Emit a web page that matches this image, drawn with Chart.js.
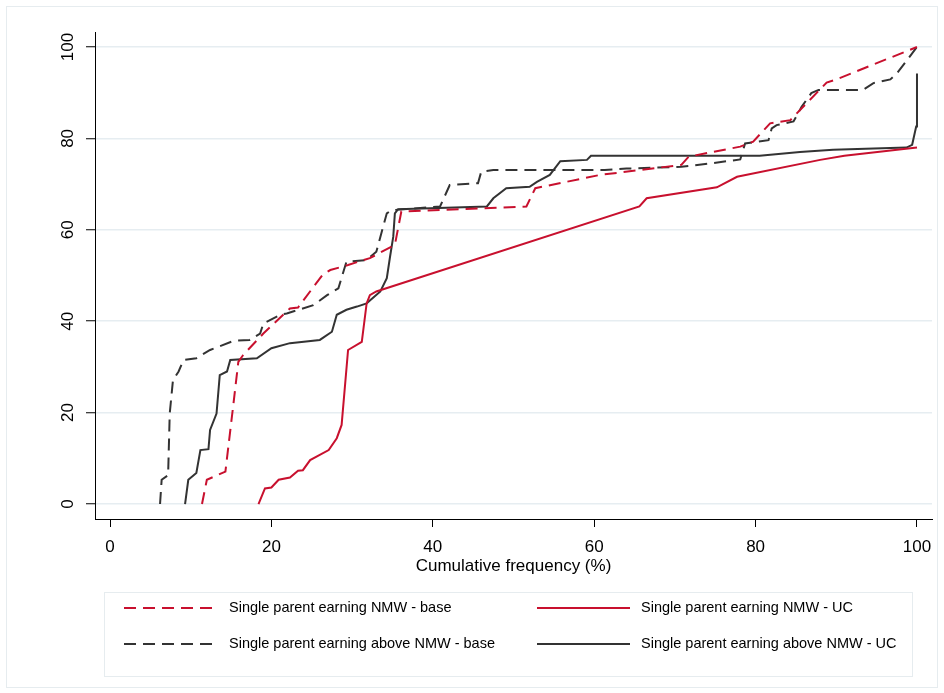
<!DOCTYPE html>
<html>
<head>
<meta charset="utf-8">
<script src="https://cdn.jsdelivr.net/npm/chart.js@4.4.1/dist/chart.umd.min.js"></script>
<style>
  html, body { margin: 0; padding: 0; background: #fff; }
  #wrap { width: 944px; height: 693px; }
</style>
</head>
<body>
<div id="wrap"><canvas id="cdfChart" width="944" height="693"></canvas></div>
<script>
// tick labels
const xTicks = [0, 20, 40, 60, 80, 100];
const yTicks = [0, 20, 40, 60, 80, 100];

// Single parent earning NMW - base (red dashed)
const nmwBaseX = [11.4, 12.0, 14.3, 15.3, 15.9, 16.5, 19.0, 22.3, 23.3, 26.4, 27.3, 29.5, 32.2, 35.3, 36.1, 51.6, 52.7, 60.7, 70.8, 71.7, 78.1, 79.7, 81.8, 84.3, 88.8, 90.0, 100];
const nmwBaseY = [0, 5.3, 7.1, 22.0, 31.1, 32.6, 37.3, 42.8, 43.0, 50.3, 51.2, 52.3, 53.8, 56.7, 64.0, 65.1, 69.1, 72.0, 74.2, 76.0, 78.2, 79.3, 83.3, 84.0, 92.2, 92.9, 100];

// Single parent earning NMW - UC (red solid)
const nmwUcX = [18.4, 19.2, 20.0, 20.9, 22.3, 23.3, 23.9, 24.8, 27.1, 28.1, 28.7, 29.5, 31.2, 31.8, 32.2, 33.0, 65.6, 66.5, 75.2, 77.7, 88.0, 91.0, 100];
const nmwUcY = [0, 3.4, 3.6, 5.3, 5.8, 7.3, 7.4, 9.6, 11.8, 14.4, 17.3, 33.7, 35.5, 43.9, 45.7, 46.5, 65.1, 66.9, 69.3, 71.6, 75.3, 76.2, 78.0];

// Single parent earning above NMW - base (dark dashed)
const aboveBaseX = [6.2, 6.4, 7.2, 7.4, 7.8, 8.5, 9.1, 10.7, 12.4, 15.3, 17.3, 18.6, 19.0, 21.1, 21.9, 25.2, 26.9, 28.3, 29.3, 31.8, 33.0, 34.3, 34.9, 40.9, 42.1, 45.6, 46.0, 47.5, 61.3, 64.0, 70.8, 74.3, 78.1, 78.7, 81.6, 82.0, 82.6, 84.7, 85.7, 86.9, 87.8, 93.3, 94.6, 96.7, 97.5, 100];
const aboveBaseY = [0, 5.3, 6.3, 19.8, 27.1, 29.0, 31.5, 31.9, 33.7, 35.7, 35.9, 37.3, 39.5, 41.4, 41.7, 43.5, 45.7, 47.2, 53.0, 53.4, 55.2, 63.6, 64.3, 65.1, 69.8, 70.2, 72.7, 73.1, 73.1, 73.4, 73.8, 74.5, 75.4, 78.9, 79.6, 82.2, 82.9, 83.7, 86.9, 89.9, 90.6, 90.6, 92.1, 92.9, 94.2, 100];

// Single parent earning above NMW - UC (dark solid)
const aboveUcX = [9.3, 9.7, 10.7, 11.2, 12.2, 12.4, 13.2, 13.6, 14.5, 14.9, 18.2, 20.0, 22.3, 26.0, 27.5, 28.1, 29.3, 30.6, 31.8, 33.5, 34.3, 34.7, 35.1, 35.3, 35.7, 46.7, 47.5, 49.1, 52.0, 52.9, 54.5, 55.8, 59.1, 59.6, 80.5, 85.5, 89.6, 98.7, 99.4, 99.9, 100];
const aboveUcY = [0, 5.3, 6.8, 11.8, 12.0, 16.2, 19.8, 28.2, 29.0, 31.5, 31.9, 34.1, 35.2, 35.9, 37.7, 41.4, 42.5, 43.2, 43.9, 46.5, 49.4, 54.1, 58.5, 63.6, 64.5, 65.1, 66.9, 69.1, 69.4, 70.5, 72.0, 75.0, 75.3, 76.2, 76.2, 77.0, 77.5, 78.0, 78.6, 82.6, 94.2];

const RED = '#c8102e';
const DARK = '#333333';

function pts(xs, ys) {
    return xs.map((x, i) => ({ x: x, y: ys[i] }));
}

const series = [
    { label: 'Single parent earning NMW - base', data: pts(nmwBaseX, nmwBaseY), color: RED, dash: [12, 7] },
    { label: 'Single parent earning NMW - UC', data: pts(nmwUcX, nmwUcY), color: RED, dash: [] },
    { label: 'Single parent earning above NMW - base', data: pts(aboveBaseX, aboveBaseY), color: DARK, dash: [12, 7] },
    { label: 'Single parent earning above NMW - UC', data: pts(aboveUcX, aboveUcY), color: DARK, dash: [] }
];

// frame, rotated y labels and the boxed legend
const extras = {
    id: 'extras',
    beforeDraw(chart) {
        const c = chart.ctx;
        c.save();
        c.fillStyle = '#fff';
        c.fillRect(0, 0, chart.width, chart.height);
        c.strokeStyle = '#e6ecef';
        c.lineWidth = 1;
        c.strokeRect(6.5, 6.5, 931, 681);
        c.restore();
    },
    afterDraw(chart) {
        const c = chart.ctx;
        const ys = chart.scales.y;
        c.save();
        c.fillStyle = '#000';
        c.font = '17px "Liberation Sans", Arial, sans-serif';
        c.textAlign = 'center';
        c.textBaseline = 'alphabetic';
        yTicks.forEach(v => {
            c.save();
            c.translate(73, ys.getPixelForValue(v));
            c.rotate(-Math.PI / 2);
            c.fillText(String(v), 0, 0);
            c.restore();
        });

        // legend box
        c.strokeStyle = '#e6ecef';
        c.lineWidth = 1;
        c.strokeRect(104.5, 592.5, 808, 84);
        c.font = '14.5px "Liberation Sans", Arial, sans-serif';
        c.textAlign = 'left';
        c.textBaseline = 'middle';
        const slots = [
            { lx: 124, rx: 215, tx: 229, y: 608 },
            { lx: 537, rx: 630, tx: 641, y: 608 },
            { lx: 124, rx: 215, tx: 229, y: 644 },
            { lx: 537, rx: 630, tx: 641, y: 644 }
        ];
        series.forEach((s, i) => {
            const sl = slots[i];
            c.beginPath();
            c.strokeStyle = s.color;
            c.lineWidth = 2;
            c.setLineDash(s.dash);
            c.moveTo(sl.lx, sl.y);
            c.lineTo(sl.rx, sl.y);
            c.stroke();
            c.setLineDash([]);
            c.fillStyle = '#000';
            c.fillText(s.label, sl.tx, sl.y);
        });
        c.restore();
    }
};

new Chart(document.getElementById('cdfChart').getContext('2d'), {
    type: 'line',
    data: {
        datasets: series.map(s => ({
            label: s.label,
            data: s.data,
            borderColor: s.color,
            backgroundColor: s.color,
            borderWidth: 2,
            borderDash: s.dash,
            pointRadius: 0,
            tension: 0,
            fill: false
        }))
    },
    options: {
        responsive: false,
        animation: false,
        layout: { padding: { left: 0, right: 12, top: 32, bottom: 116 } },
        plugins: {
            legend: { display: false },
            tooltip: { enabled: false }
        },
        scales: {
            x: {
                type: 'linear',
                min: -1.86,
                max: 101.86,
                afterBuildTicks: s => { s.ticks = xTicks.map(v => ({ value: v })); },
                afterFit: s => { s.height = 58; },
                grid: { drawOnChartArea: false, drawTicks: true, tickLength: 8, tickColor: '#000' },
                border: { display: true, color: '#000', width: 1 },
                ticks: {
                    color: '#000',
                    padding: 10,
                    maxRotation: 0,
                    font: { family: '"Liberation Sans", Arial, sans-serif', size: 17 }
                },
                title: {
                    display: true,
                    text: 'Cumulative frequency (%)',
                    color: '#000',
                    padding: { top: 0, bottom: 0 },
                    font: { family: '"Liberation Sans", Arial, sans-serif', size: 17 }
                }
            },
            y: {
                type: 'linear',
                min: -3.28,
                max: 103.28,
                afterBuildTicks: s => { s.ticks = yTicks.map(v => ({ value: v })); },
                afterFit: s => { s.width = 95; },
                grid: { color: '#e6edf1', lineWidth: 1.5, drawTicks: true, tickLength: 9, tickColor: '#000', tickWidth: 1 },
                border: { display: true, color: '#000', width: 1 },
                ticks: { color: 'rgba(0,0,0,0)', font: { size: 16 } }
            }
        }
    },
    plugins: [extras]
});
</script>
</body>
</html>
